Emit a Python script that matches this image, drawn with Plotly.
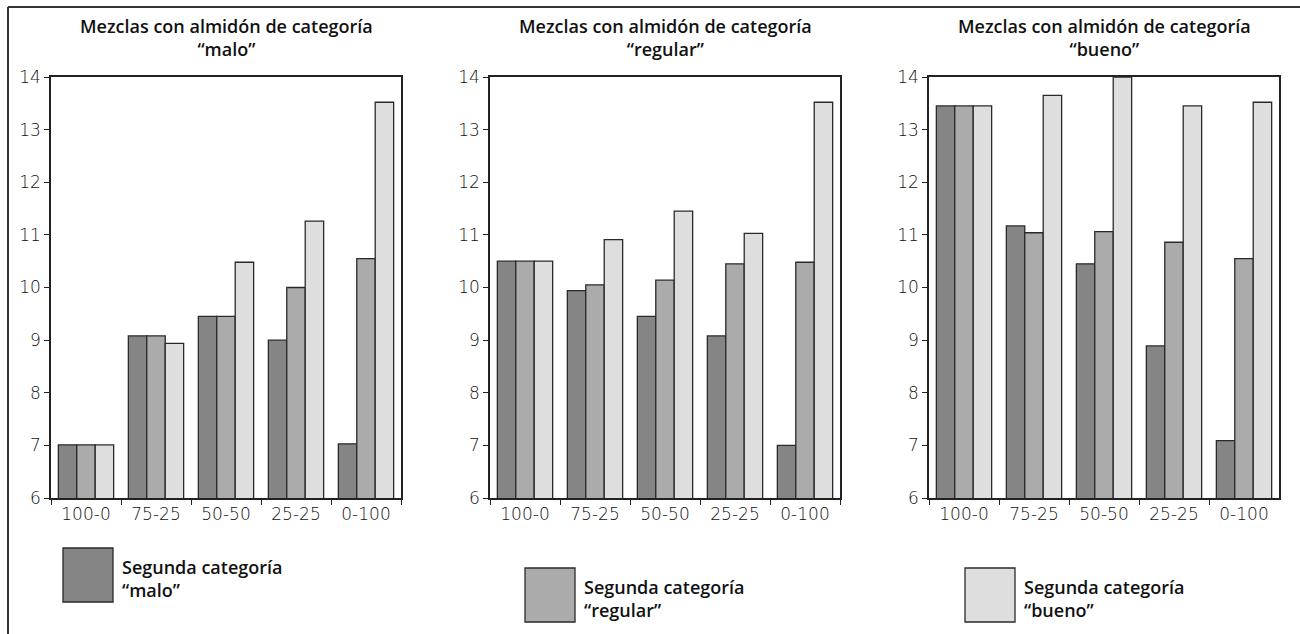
import plotly.graph_objects as go

categories = ["100-0", "75-25", "50-50", "25-25", "0-100"]
panel_titles = ["Mezclas con almidón de categoría<br>“malo”",
                "Mezclas con almidón de categoría<br>“regular”",
                "Mezclas con almidón de categoría<br>“bueno”"]
series_names = ["Segunda categoría “malo”", "Segunda categoría “regular”", "Segunda categoría “bueno”"]
legend_labels = ["Segunda categoría<br>“malo”", "Segunda categoría<br>“regular”", "Segunda categoría<br>“bueno”"]

# panel 1: almidón "malo"
malo_malo = [7.01, 9.08, 9.45, 9.00, 7.03]
malo_regular = [7.01, 9.08, 9.45, 10.00, 10.55]
malo_bueno = [7.01, 8.94, 10.48, 11.26, 13.52]
# panel 2: almidón "regular"
regular_malo = [10.50, 9.94, 9.45, 9.08, 7.00]
regular_regular = [10.50, 10.05, 10.14, 10.45, 10.48]
regular_bueno = [10.50, 10.91, 11.45, 11.03, 13.52]
# panel 3: almidón "bueno"
bueno_malo = [13.45, 11.17, 10.45, 8.89, 7.09]
bueno_regular = [13.45, 11.04, 11.06, 10.86, 10.55]
bueno_bueno = [13.45, 13.65, 14.00, 13.45, 13.52]

y_ticks = [6, 7, 8, 9, 10, 11, 12, 13, 14]

colors = ["#858585", "#ababab", "#dedede"]
W, H = 1300, 634
x_domains = [(51, 401), (490, 840), (929, 1279)]
y_top, y_bot = 77, 498

panels = [
    [malo_malo, malo_regular, malo_bueno],
    [regular_malo, regular_regular, regular_bueno],
    [bueno_malo, bueno_regular, bueno_bueno],
]

fig = go.Figure()
for p, series in enumerate(panels):
    xa = "x" if p == 0 else f"x{p+1}"
    ya = "y" if p == 0 else f"y{p+1}"
    for s, vals in enumerate(series):
        fig.add_trace(go.Bar(
            x=categories, y=vals, name=series_names[s],
            marker=dict(color=colors[s], line=dict(color="#2a2a2a", width=1.3)),
            xaxis=xa, yaxis=ya, showlegend=False, offsetgroup=str(s),
        ))

axis_font = dict(family="DejaVu Sans", size=17, color="#111", weight=300)
layout = dict(
    width=W, height=H,
    margin=dict(l=0, r=0, t=0, b=0),
    paper_bgcolor="white", plot_bgcolor="white",
    barmode="group", bargap=0.21, bargroupgap=0,
    showlegend=False,
)
for p in range(3):
    xk = "xaxis" if p == 0 else f"xaxis{p+1}"
    yk = "yaxis" if p == 0 else f"yaxis{p+1}"
    x0, x1 = x_domains[p]
    layout[xk] = dict(
        domain=[x0 / W, x1 / W], anchor="y" if p == 0 else f"y{p+1}",
        type="category", tickson="boundaries", ticks="outside", ticklen=5,
        tickcolor="#222", showline=True, linecolor="#222", linewidth=1.5,
        mirror=True, showgrid=False, tickfont=axis_font, fixedrange=True,
        automargin=False,
    )
    layout[yk] = dict(
        domain=[(H - y_bot) / H, (H - y_top) / H], anchor="x" if p == 0 else f"x{p+1}",
        range=[6, 14], tickvals=y_ticks, ticks="outside", ticklen=5,
        tickcolor="#222", showline=True, linecolor="#222", linewidth=1.5,
        mirror=True, showgrid=False, zeroline=False, tickfont=axis_font,
        automargin=False, fixedrange=True,
    )
fig.update_layout(**layout)

title_font = dict(family="Open Sans", size=18, color="#111", weight=600)
annotations = []
for p in range(3):
    x0, x1 = x_domains[p]
    annotations.append(dict(
        text=panel_titles[p], xref="paper", yref="paper",
        x=((x0 + x1) / 2) / W, y=(H - 38) / H, xanchor="center", yanchor="middle",
        showarrow=False, font=title_font, align="center",
    ))

shapes = []
# outer frame (top and left lines)
shapes.append(dict(type="line", xref="paper", yref="paper",
                   x0=8 / W, x1=1.0, y0=(H - 7) / H, y1=(H - 7) / H,
                   line=dict(color="#333", width=2)))
shapes.append(dict(type="line", xref="paper", yref="paper",
                   x0=8 / W, x1=8 / W, y0=0, y1=(H - 7) / H,
                   line=dict(color="#333", width=2)))

legend_boxes = [(63, 548), (525, 568), (965, 568)]
for i, (bx, by) in enumerate(legend_boxes):
    shapes.append(dict(type="rect", xref="paper", yref="paper",
                       x0=bx / W, x1=(bx + 50) / W,
                       y0=(H - by - 54) / H, y1=(H - by) / H,
                       fillcolor=colors[i], line=dict(color="#2a2a2a", width=1.3)))
    annotations.append(dict(
        text=legend_labels[i], xref="paper", yref="paper",
        x=(bx + 57) / W, y=(H - by - 30) / H, xanchor="left", yanchor="middle",
        showarrow=False, font=dict(family="Open Sans", size=18, color="#111", weight=600),
        align="left",
    ))

fig.update_layout(annotations=annotations, shapes=shapes)
fig.write_html("out.html",
               config={"displayModeBar": False},
               post_script="document.body.style.margin='0';document.body.style.overflow='hidden';")
